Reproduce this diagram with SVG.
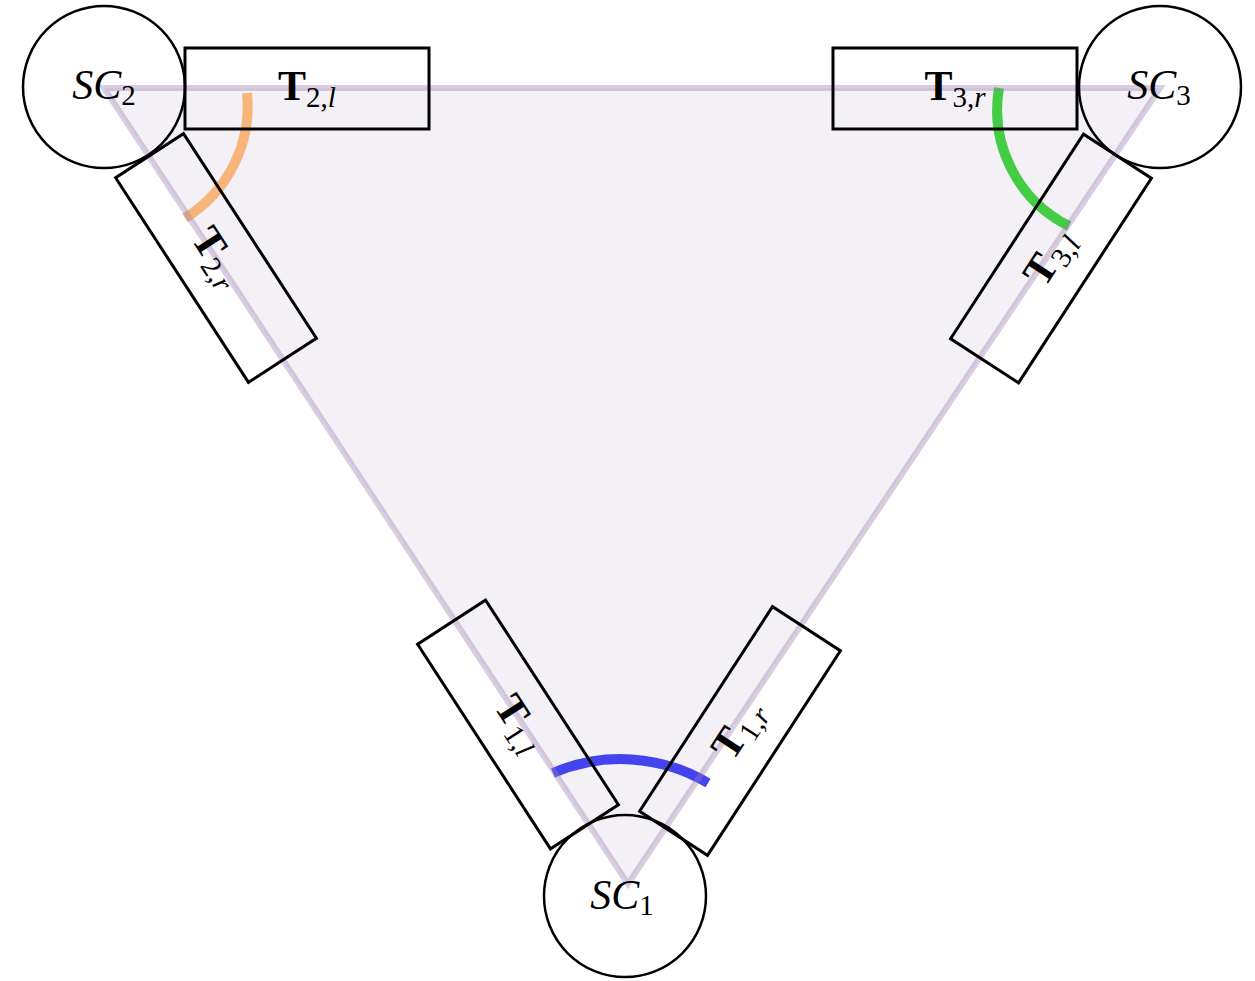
<svg xmlns="http://www.w3.org/2000/svg" width="1255" height="981" viewBox="0 0 1255 981">
  <style>
    .tri-fill { fill: #9a7fb0; fill-opacity: 0.11; stroke: none; }
    .tri-edge { fill: none; stroke: #9a7fb0; stroke-opacity: 0.38; stroke-width: 6; stroke-linejoin: miter; }
    .box { fill: none; stroke: #000; stroke-width: 3; }
    .sc { fill: none; stroke: #000; stroke-width: 2.5; }
    .lbl { font-family: "Liberation Serif", "Times New Roman", serif; font-size: 42px; fill: #000; text-anchor: middle; }
    .sub { font-size: 29px; }
    .it { font-style: italic; }
    .bf { font-weight: bold; }
    .arc { fill: none; stroke-width: 10; stroke-linecap: butt; }
  </style>

  <!-- triangle interior -->
  <polygon class="tri-fill" points="104,88 1160,88 628,884"/>

  <!-- angle arcs at the three vertices -->
  <g id="arcs">
    <path class="arc" stroke="#f7b57c" d="M 247 93 A 131 131 0 0 1 185 218"/>
    <path class="arc" stroke="#44cc44" d="M 999 88 A 130 130 0 0 0 1069 226"/>
    <path class="arc" stroke="#4444ee" d="M 553 773 A 171 171 0 0 1 708 783"/>
  </g>

  <!-- triangle edges -->
  <g id="connectors">
    <polygon class="tri-edge" points="104,88 1160,88 628,884"/>
  </g>

  <!-- vertex nodes -->
  <g id="SC2">
    <circle class="sc" cx="104" cy="87" r="81"/>
    <text class="lbl" x="104" y="99"><tspan class="it">SC</tspan><tspan class="sub" dy="6">2</tspan></text>
  </g>
  <g id="SC3">
    <circle class="sc" cx="1160" cy="87" r="81"/>
    <text class="lbl" x="1159" y="99"><tspan class="it">SC</tspan><tspan class="sub" dy="6">3</tspan></text>
  </g>
  <g id="SC1">
    <circle class="sc" cx="625" cy="896" r="81"/>
    <text class="lbl" x="622" y="909"><tspan class="it">SC</tspan><tspan class="sub" dy="6">1</tspan></text>
  </g>

  <!-- edge blocks -->
  <g id="T2l" transform="translate(307,88.5)">
    <rect class="box" x="-122" y="-40.5" width="244" height="81"/>
    <text class="lbl" x="0" y="11"><tspan class="bf">T</tspan><tspan class="sub" dy="7">2,<tspan class="it">l</tspan></tspan></text>
  </g>
  <g id="T3r" transform="translate(955,88.5)">
    <rect class="box" x="-122" y="-40.5" width="244" height="81"/>
    <text class="lbl" x="0" y="11"><tspan class="bf">T</tspan><tspan class="sub" dy="7">3,<tspan class="it">r</tspan></tspan></text>
  </g>
  <g id="T2r" transform="translate(216,258) rotate(57)">
    <rect class="box" x="-122" y="-40.5" width="244" height="81"/>
    <text class="lbl" x="0" y="11"><tspan class="bf">T</tspan><tspan class="sub" dy="7">2,<tspan class="it">r</tspan></tspan></text>
  </g>
  <g id="T3l" transform="translate(1051,258.5) rotate(-57)">
    <rect class="box" x="-122" y="-40.5" width="244" height="81"/>
    <text class="lbl" x="0" y="11"><tspan class="bf">T</tspan><tspan class="sub" dy="7">3,<tspan class="it">l</tspan></tspan></text>
  </g>
  <g id="T1l" transform="translate(518,724.5) rotate(57)">
    <rect class="box" x="-122" y="-40.5" width="244" height="81"/>
    <text class="lbl" x="0" y="11"><tspan class="bf">T</tspan><tspan class="sub" dy="7">1,<tspan class="it">l</tspan></tspan></text>
  </g>
  <g id="T1r" transform="translate(740,731) rotate(-57)">
    <rect class="box" x="-122" y="-40.5" width="244" height="81"/>
    <text class="lbl" x="0" y="11"><tspan class="bf">T</tspan><tspan class="sub" dy="7">1,<tspan class="it">r</tspan></tspan></text>
  </g>
</svg>
